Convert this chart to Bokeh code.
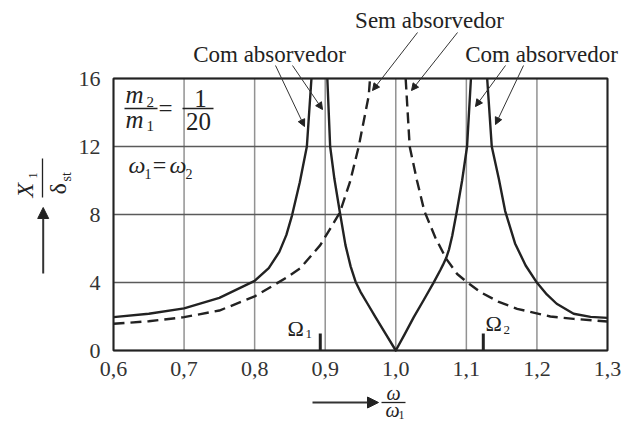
from math import pi

from bokeh.embed import file_html
from bokeh.models import (Arrow, CustomJSTickFormatter, FixedTicker, Label,
                          LinearAxis, NormalHead, Range1d)
from bokeh.plotting import figure
from bokeh.resources import INLINE

# Frequency ratio (omega / omega_1) and amplitude ratio (X1 / delta_st)
# of the main mass, m2/m1 = 1/20, omega_1 = omega_2.

# With absorber: branch below the first resonance
with_low_freq = [0.60, 0.65, 0.70, 0.75, 0.80, 0.82, 0.835, 0.845, 0.853, 0.864, 0.874, 0.8805]
with_low_amp = [1.96, 2.16, 2.48, 3.10, 4.10, 4.85, 5.80, 6.80, 7.95, 9.90, 12.0, 16.0]

# With absorber: branch between the two resonances (zero at omega = omega_1)
with_mid_freq = [0.903, 0.907, 0.913, 0.9207, 0.9287, 0.936, 0.943, 0.950, 0.960, 0.971, 0.985, 1.000,
                 1.0125, 1.0255, 1.040, 1.054, 1.063, 1.067, 1.0715, 1.0755, 1.080, 1.0861,
                 1.094, 1.101, 1.1065]
with_mid_amp = [16.0, 12.0, 10.1, 8.15, 6.2, 4.95, 4.05, 3.45, 2.75, 1.98, 1.02, 0.0,
                0.95, 1.96, 3.0, 4.02, 4.72, 5.05, 5.45, 5.95, 6.75, 8.1,
                10.0, 12.0, 16.0]

# With absorber: branch above the second resonance
with_high_freq = [1.1295, 1.136, 1.146, 1.155, 1.169, 1.184, 1.199, 1.214, 1.228, 1.252, 1.276, 1.300]
with_high_amp = [16.0, 12.0, 10.1, 8.2, 6.3, 5.0, 4.05, 3.3, 2.75, 2.16, 1.98, 1.92]

# Without absorber: below and above omega_1
without_low_freq = [0.60, 0.65, 0.70, 0.75, 0.80, 0.846, 0.865, 0.893, 0.9206, 0.935, 0.9475, 0.9617, 0.9635]
without_low_amp = [1.57, 1.72, 1.96, 2.35, 3.18, 4.31, 4.85, 6.2, 8.1, 9.9, 12.0, 15.0, 16.0]
without_high_freq = [1.014, 1.0197, 1.030, 1.0405, 1.056, 1.0714, 1.087, 1.101, 1.120, 1.145,
                     1.172, 1.219, 1.252, 1.300]
without_high_amp = [16.0, 12.0, 10.0, 8.2, 6.65, 5.4, 4.5, 4.02, 3.43, 2.88,
                    2.45, 2.0, 1.86, 1.71]

# Resonance frequencies Omega_1, Omega_2 of the two-mass system
resonance_freq = [0.893, 1.124]
resonance_names = ["1", "2"]

x_ticks = [0.6, 0.7, 0.8, 0.9, 1.0, 1.1, 1.2, 1.3]
y_ticks = [0, 4, 8, 12, 16]

X_BOX = (0.6, 1.3)
Y_BOX = (0.0, 16.0)
W, H = 623, 423
# pixel position of the chart box inside the canvas
BOX_L, BOX_R, BOX_T, BOX_B = 113, 607, 78, 350

SERIF = "Liberation Serif"
INK = "#222222"
# distance from the alphabetic baseline to the middle of the text box, in em
MID_OFFSET = 0.3375


def at_x(px):
    return X_BOX[0] + (px - BOX_L) * (X_BOX[1] - X_BOX[0]) / (BOX_R - BOX_L)


def at_y(py):
    return Y_BOX[0] + (BOX_B - py) * (Y_BOX[1] - Y_BOX[0]) / (BOX_B - BOX_T)


# the drawing area spans the whole canvas so that captions and arrows
# around the box are not clipped; the box itself is drawn below
p = figure(width=W, height=H,
           x_range=Range1d(at_x(0), at_x(W)), y_range=Range1d(at_y(H), at_y(0)),
           x_axis_type=None, y_axis_type=None,
           output_backend="svg", toolbar_location=None,
           min_border=0)
p.background_fill_color = "white"
p.border_fill_color = "white"
p.outline_line_color = None

tick_fmt_x = CustomJSTickFormatter(code="return tick.toFixed(1).replace('.', ',')")
tick_fmt_y = CustomJSTickFormatter(code="return tick.toFixed(0)")
xaxis = LinearAxis(fixed_location=Y_BOX[0], bounds=X_BOX,
                   ticker=FixedTicker(ticks=x_ticks), formatter=tick_fmt_x)
yaxis = LinearAxis(fixed_location=X_BOX[0], bounds=Y_BOX,
                   ticker=FixedTicker(ticks=y_ticks), formatter=tick_fmt_y)
for ax in (xaxis, yaxis):
    ax.axis_line_color = None
    ax.major_tick_line_color = None
    ax.minor_tick_line_color = None
    ax.major_label_text_font = SERIF
    ax.major_label_text_font_size = "22px"
    ax.major_label_text_color = "#333333"
xaxis.major_label_standoff = 5
yaxis.major_label_standoff = 7
p.add_layout(xaxis, "below")
p.add_layout(yaxis, "left")

# grid lines at the tick values, limited to the box
p.segment(x0=x_ticks, y0=[Y_BOX[0]] * len(x_ticks), x1=x_ticks, y1=[Y_BOX[1]] * len(x_ticks),
          line_color="#929292", line_width=1.5)
p.segment(x0=[X_BOX[0]] * len(y_ticks), y0=y_ticks, x1=[X_BOX[1]] * len(y_ticks), y1=y_ticks,
          line_color="#5a5a5a", line_width=1.3)
p.quad(left=[X_BOX[0]], right=[X_BOX[1]], bottom=[Y_BOX[0]], top=[Y_BOX[1]],
       fill_color=None, line_color=INK, line_width=2)

# response curves
for fx, fy in ((with_low_freq, with_low_amp), (with_mid_freq, with_mid_amp),
               (with_high_freq, with_high_amp)):
    p.line(fx, fy, line_color=INK, line_width=2.4, line_join="round")
for fx, fy in ((without_low_freq, without_low_amp), (without_high_freq, without_high_amp)):
    p.line(fx, fy, line_color=INK, line_width=2.4, line_dash="11 6")

# short marks at the resonance frequencies
p.segment(x0=resonance_freq, y0=[0, 0], x1=resonance_freq, y1=[1.0, 1.0],
          line_color=INK, line_width=3)


def text(px, py, s, size, style="normal", align="left", angle=0.0):
    """Place text with its baseline at canvas pixel (px, py)."""
    shift = MID_OFFSET * size
    if angle:
        px -= shift   # text reads upwards: its middle lies to the left of the baseline
    else:
        py -= shift
    p.add_layout(Label(x=at_x(px), y=at_y(py), text=s, text_font=SERIF,
                       text_font_size=f"{size}px", text_font_style=style,
                       text_color=INK, text_align=align,
                       text_baseline="middle", angle=angle))


def rule(x0, y0, x1, y1, width=1.3):
    p.add_layout(Arrow(start=None, end=None, x_start=at_x(x0), y_start=at_y(y0),
                       x_end=at_x(x1), y_end=at_y(y1),
                       line_color=INK, line_width=width))


def pointer(x0, y0, x1, y1, width=1.0, size=7):
    head = NormalHead(size=size, fill_color=INK, line_color=INK, line_width=1)
    p.add_layout(Arrow(end=head, x_start=at_x(x0), y_start=at_y(y0),
                       x_end=at_x(x1), y_end=at_y(y1),
                       line_color="#333333", line_width=width))


# curve captions and leader arrows
text(269, 62, "Com absorvedor", 23, align="center")
text(429, 28, "Sem absorvedor", 23, align="center")
text(541, 62, "Com absorvedor", 23, align="center")
pointer(275, 65, 304, 126)
pointer(292, 65, 322, 109)
pointer(417, 32, 372, 90)
pointer(457, 32, 411, 90)
pointer(505, 65, 475, 106)
pointer(523, 65, 495, 124)

# parameters: m2/m1 = 1/20, omega_1 = omega_2
text(125, 102, "m", 25, style="italic")
text(146, 107, "2", 15)
rule(124, 108, 157, 108)
text(125, 127, "m", 25, style="italic")
text(146, 131, "1", 15)
text(165, 116, "=", 25, align="center")
text(200, 106, "1", 25, align="center")
rule(182, 108, 213, 108)
text(198, 129, "20", 25, align="center")

text(128, 173, "ω", 24, style="italic")
text(144, 178, "1", 14)
text(159, 173, "=", 24, align="center")
text(169, 173, "ω", 24, style="italic")
text(185, 178, "2", 14)

# resonance labels
text(287, 335, "Ω", 22)
text(305, 338, resonance_names[0], 13)
text(485, 330, "Ω", 22)
text(503, 334, resonance_names[1], 13)

# vertical axis title X1 / delta_st with arrow
text(33, 197, "X", 24, style="italic", angle=pi / 2)
text(37, 178, "1", 12, angle=pi / 2)
rule(42, 158, 42, 197)
text(66, 194, "δ", 24, angle=pi / 2)
text(71, 181, "st", 14, angle=pi / 2)
pointer(42.7, 273, 42.7, 207, width=2, size=11)

# horizontal axis title omega / omega_1 with arrow
pointer(312, 402, 378, 402, width=2, size=11)
text(393, 399, "ω", 20, style="italic", align="center")
rule(381, 402, 405, 402)
text(385, 416, "ω", 20, style="italic")
text(398, 419, "1", 12)

open("out.html", "w").write(file_html(p, INLINE))
